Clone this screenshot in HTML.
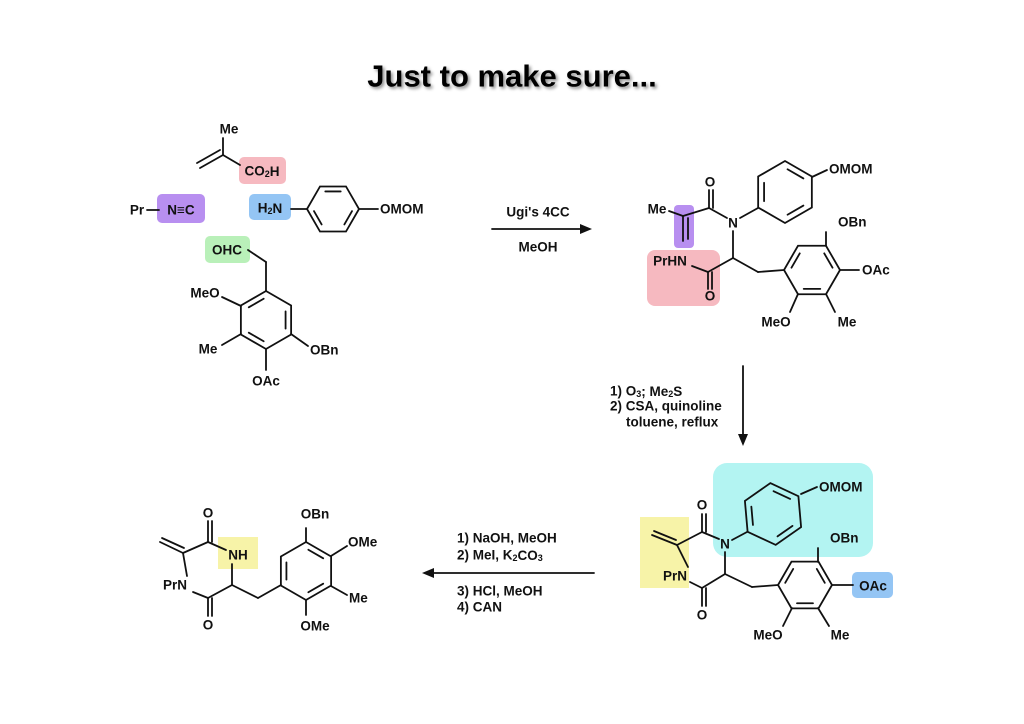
<!DOCTYPE html>
<html><head><meta charset="utf-8"><style>
html,body{margin:0;padding:0;background:#fff;}
svg{display:block}
svg *{vector-effect:non-scaling-stroke}
text{font-family:"Liberation Sans",Arial,sans-serif;font-weight:bold;font-size:13.5px;fill:#111;dominant-baseline:central}
.l{stroke:#111;stroke-width:1.8;fill:none;stroke-linecap:round}
</style></head><body>
<svg width="1024" height="724" viewBox="0 0 1024 724" xmlns="http://www.w3.org/2000/svg">
<defs>
<g id="ringA" class="l">
<polygon points="0,-1 0.866,-0.5 0.866,0.5 0,1 -0.866,0.5 -0.866,-0.5"/>
<line x1="0.081" y1="-0.733" x2="0.594" y2="-0.437"/>
<line x1="0.594" y1="0.437" x2="0.081" y2="0.733"/>
<line x1="-0.675" y1="0.296" x2="-0.675" y2="-0.296"/>
</g>
<g id="ringB" class="l">
<polygon points="0,-1 0.866,-0.5 0.866,0.5 0,1 -0.866,0.5 -0.866,-0.5"/>
<line x1="0.675" y1="-0.296" x2="0.675" y2="0.296"/>
<line x1="-0.081" y1="0.733" x2="-0.594" y2="0.437"/>
<line x1="-0.594" y1="-0.437" x2="-0.081" y2="-0.733"/>
</g>
</defs>

<text x="512" y="76" text-anchor="middle" style="font-size:31px;fill:#000;filter:drop-shadow(2px 2px 1.5px rgba(0,0,0,0.45))">Just to make sure...</text>

<!-- highlight boxes -->
<rect x="239" y="157" width="47" height="27" rx="5" fill="#f6b9c0"/>
<rect x="157" y="194" width="48" height="29" rx="5" fill="#b88ff0"/>
<rect x="249" y="194" width="42" height="26" rx="5" fill="#94c5f4"/>
<rect x="205" y="236" width="45" height="27" rx="5" fill="#b9f0b9"/>
<rect x="674" y="205" width="20" height="43" rx="4" fill="#b88ff0"/>
<rect x="647" y="250" width="73" height="56" rx="8" fill="#f6b9c0"/>
<rect x="713" y="463" width="160" height="94" rx="14" fill="#b3f4f2"/>
<rect x="640" y="517" width="49" height="71" fill="#f7f3a8"/>
<rect x="852" y="572" width="41" height="26" rx="5" fill="#94c5f4"/>
<rect x="218" y="537" width="40" height="32" fill="#f7f3a8"/>

<!-- Start materials -->
<text x="229" y="129" text-anchor="middle">Me</text>
<g class="l">
<line x1="223" y1="138" x2="223" y2="155"/>
<line x1="223" y1="155" x2="200" y2="168"/>
<line x1="220" y1="150" x2="197" y2="163"/>
<line x1="223" y1="155" x2="240" y2="165"/>
</g>
<text x="262" y="171" text-anchor="middle">CO<tspan dy="3" style="font-size:9px">2</tspan><tspan dy="-3">H</tspan></text>

<text x="137" y="210" text-anchor="middle">Pr</text>
<line class="l" x1="147" y1="210" x2="159" y2="210"/>
<text x="181" y="210" text-anchor="middle">N≡C</text>

<text x="270" y="208" text-anchor="middle">H<tspan dy="3" style="font-size:9px">2</tspan><tspan dy="-3">N</tspan></text>
<line class="l" x1="291" y1="209" x2="307" y2="209"/>
<use href="#ringA" transform="translate(333,209) rotate(90) scale(26)"/>
<line class="l" x1="359" y1="209" x2="378" y2="209"/>
<text x="380" y="209">OMOM</text>

<text x="227" y="250" text-anchor="middle">OHC</text>
<g class="l">
<line x1="248" y1="250" x2="266" y2="262"/>
<line x1="266" y1="262" x2="266" y2="291"/>
<line x1="241" y1="306" x2="222" y2="297"/>
<line x1="241" y1="334" x2="222" y2="345"/>
<line x1="291" y1="334" x2="308" y2="346"/>
<line x1="266" y1="349" x2="266" y2="370"/>
</g>
<use href="#ringB" transform="translate(266,320) scale(29)"/>
<text x="205" y="293" text-anchor="middle">MeO</text>
<text x="208" y="349" text-anchor="middle">Me</text>
<text x="310" y="350">OBn</text>
<text x="266" y="381" text-anchor="middle">OAc</text>

<!-- Arrow 1 -->
<line class="l" x1="492" y1="229" x2="582" y2="229"/>
<polygon points="592,229 580,224 580,234" fill="#111"/>
<text x="538" y="212" text-anchor="middle">Ugi's 4CC</text>
<text x="538" y="247" text-anchor="middle">MeOH</text>

<!-- Product 1 -->
<text x="657" y="209" text-anchor="middle">Me</text>
<text x="710" y="182" text-anchor="middle">O</text>
<text x="733" y="223" text-anchor="middle">N</text>
<text x="670" y="261" text-anchor="middle">PrHN</text>
<text x="710" y="296" text-anchor="middle">O</text>
<g class="l">
<line x1="669" y1="211" x2="683" y2="216"/>
<line x1="683" y1="216" x2="683" y2="241"/>
<line x1="688" y1="218" x2="688" y2="239"/>
<line x1="683" y1="216" x2="709" y2="208"/>
<line x1="709" y1="208" x2="709" y2="190"/>
<line x1="713" y1="208" x2="713" y2="190"/>
<line x1="709" y1="208" x2="727" y2="218"/>
<line x1="740" y1="218" x2="758" y2="208"/>
<line x1="733" y1="231" x2="733" y2="258"/>
<line x1="692" y1="266" x2="708" y2="272"/>
<line x1="708" y1="272" x2="733" y2="258"/>
<line x1="708" y1="272" x2="708" y2="289"/>
<line x1="712" y1="272" x2="712" y2="289"/>
<line x1="733" y1="258" x2="758" y2="272"/>
<line x1="758" y1="272" x2="784" y2="270"/>
<line x1="812" y1="177" x2="827" y2="170"/>
<line x1="826" y1="246" x2="826" y2="232"/>
<line x1="840" y1="270" x2="859" y2="270"/>
<line x1="798" y1="294" x2="790" y2="312"/>
<line x1="826" y1="294" x2="835" y2="312"/>
</g>
<use href="#ringA" transform="translate(785,192) scale(31)"/>
<use href="#ringB" transform="translate(812,270) rotate(90) scale(28)"/>
<text x="829" y="169">OMOM</text>
<text x="838" y="222">OBn</text>
<text x="862" y="270">OAc</text>
<text x="776" y="322" text-anchor="middle">MeO</text>
<text x="847" y="322" text-anchor="middle">Me</text>

<!-- Arrow 2 -->
<line class="l" x1="743" y1="366" x2="743" y2="436"/>
<polygon points="743,446 738,434 748,434" fill="#111"/>
<text x="610" y="391">1) O<tspan dy="3" style="font-size:9px">3</tspan><tspan dy="-3">; Me</tspan><tspan dy="3" style="font-size:9px">2</tspan><tspan dy="-3">S</tspan></text>
<text x="610" y="406">2) CSA, quinoline</text>
<text x="626" y="422">toluene, reflux</text>

<!-- Product 2 -->
<text x="702" y="505" text-anchor="middle">O</text>
<text x="725" y="544" text-anchor="middle">N</text>
<text x="675" y="576" text-anchor="middle">PrN</text>
<text x="702" y="615" text-anchor="middle">O</text>
<g class="l">
<line x1="677" y1="545" x2="652" y2="535"/>
<line x1="676" y1="540" x2="654" y2="531"/>
<line x1="677" y1="545" x2="702" y2="532"/>
<line x1="702" y1="532" x2="702" y2="514"/>
<line x1="706" y1="532" x2="706" y2="514"/>
<line x1="702" y1="532" x2="719" y2="539"/>
<line x1="677" y1="545" x2="688" y2="567"/>
<line x1="690" y1="582" x2="702" y2="588"/>
<line x1="702" y1="588" x2="725" y2="574"/>
<line x1="725" y1="552" x2="725" y2="574"/>
<line x1="702" y1="588" x2="702" y2="606"/>
<line x1="706" y1="588" x2="706" y2="606"/>
<line x1="725" y1="574" x2="752" y2="587"/>
<line x1="752" y1="587" x2="778" y2="585"/>
<line x1="732" y1="540" x2="747" y2="532"/>
<line x1="801" y1="494" x2="817" y2="487"/>
<line x1="818" y1="562" x2="818" y2="548"/>
<line x1="832" y1="585" x2="853" y2="585"/>
<line x1="792" y1="608" x2="783" y2="626"/>
<line x1="818" y1="608" x2="829" y2="626"/>
</g>
<use href="#ringA" transform="translate(773,514) rotate(-5) scale(31)"/>
<use href="#ringB" transform="translate(805,585) rotate(90) scale(27)"/>
<text x="819" y="487">OMOM</text>
<text x="830" y="538">OBn</text>
<text x="873" y="586" text-anchor="middle">OAc</text>
<text x="768" y="635" text-anchor="middle">MeO</text>
<text x="840" y="635" text-anchor="middle">Me</text>

<!-- Arrow 3 -->
<line class="l" x1="594" y1="573" x2="432" y2="573"/>
<polygon points="422,573 434,568 434,578" fill="#111"/>
<text x="457" y="538">1) NaOH, MeOH</text>
<text x="457" y="555">2) MeI, K<tspan dy="3" style="font-size:9px">2</tspan><tspan dy="-3">CO</tspan><tspan dy="3" style="font-size:9px">3</tspan></text>
<text x="457" y="591">3) HCl, MeOH</text>
<text x="457" y="607">4) CAN</text>

<!-- Final product -->
<text x="208" y="513" text-anchor="middle">O</text>
<text x="238" y="555" text-anchor="middle">NH</text>
<text x="175" y="585" text-anchor="middle">PrN</text>
<text x="208" y="625" text-anchor="middle">O</text>
<g class="l">
<line x1="183" y1="553" x2="160" y2="542"/>
<line x1="184" y1="548" x2="162" y2="538"/>
<line x1="183" y1="553" x2="208" y2="542"/>
<line x1="208" y1="542" x2="208" y2="521"/>
<line x1="212" y1="542" x2="212" y2="521"/>
<line x1="208" y1="542" x2="226" y2="550"/>
<line x1="183" y1="553" x2="187" y2="576"/>
<line x1="193" y1="592" x2="208" y2="598"/>
<line x1="208" y1="598" x2="232" y2="585"/>
<line x1="232" y1="564" x2="232" y2="585"/>
<line x1="208" y1="598" x2="208" y2="616"/>
<line x1="212" y1="598" x2="212" y2="616"/>
<line x1="232" y1="585" x2="258" y2="598"/>
<line x1="258" y1="598" x2="281" y2="585"/>
<line x1="306" y1="542" x2="306" y2="528"/>
<line x1="331" y1="556" x2="347" y2="546"/>
<line x1="331" y1="586" x2="347" y2="595"/>
<line x1="306" y1="600" x2="306" y2="615"/>
</g>
<use href="#ringA" transform="translate(306,571) scale(29)"/>
<text x="315" y="514" text-anchor="middle">OBn</text>
<text x="348" y="542">OMe</text>
<text x="349" y="598">Me</text>
<text x="315" y="626" text-anchor="middle">OMe</text>
</svg>
</body></html>
